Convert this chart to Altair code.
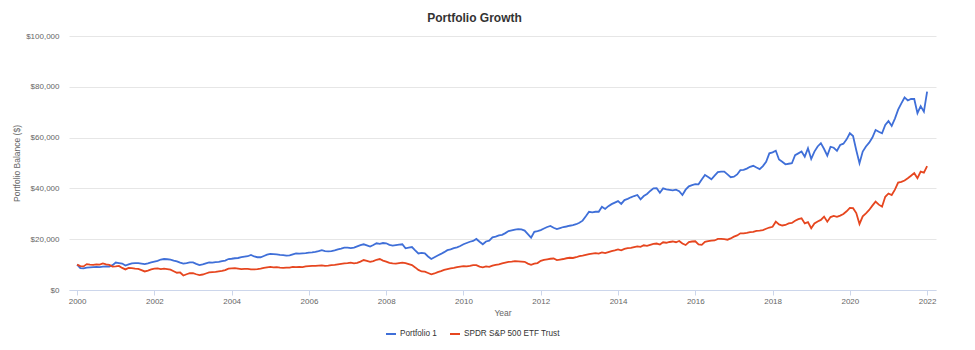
import altair as alt
import pandas as pd

series_names = ["Portfolio 1", "SPDR S&P 500 ETF Trust"]
series_colors = ["#3f6fd8", "#e6461f"]
x_ticks = list(range(2000, 2023, 2))
y_ticks = [0, 20000, 40000, 60000, 80000, 100000]

# Monthly balances (thousands of $), one row per year, positions year + k/12
p1_2000 = [10.0, 8.6, 8.5, 8.8, 8.9, 9.0, 9.1, 9.0, 9.2, 9.3, 9.2, 9.8]
p1_2001 = [10.8, 10.6, 10.4, 9.6, 10.1, 10.5, 10.6, 10.6, 10.4, 10.2, 10.5, 10.9]
p1_2002 = [11.2, 11.5, 12.0, 12.2, 12.1, 12.0, 11.6, 11.3, 10.8, 10.4, 10.6, 10.9]
p1_2003 = [10.9, 10.3, 9.8, 10.1, 10.5, 10.9, 10.8, 11.0, 11.1, 11.4, 11.6, 12.2]
p1_2004 = [12.3, 12.5, 12.6, 12.9, 13.1, 13.3, 13.8, 13.2, 12.9, 12.9, 13.4, 13.9]
p1_2005 = [14.2, 14.1, 14.0, 13.8, 13.7, 13.5, 13.6, 14.0, 14.4, 14.3, 14.4, 14.5]
p1_2006 = [14.7, 14.8, 15.0, 15.3, 15.7, 15.3, 15.2, 15.3, 15.6, 16.0, 16.3, 16.7]
p1_2007 = [16.7, 16.5, 16.7, 17.2, 17.7, 18.0, 17.6, 17.1, 17.7, 18.4, 18.2, 18.5]
p1_2008 = [18.4, 17.8, 17.5, 17.7, 17.9, 18.0, 16.4, 16.7, 16.9, 15.6, 14.4, 14.6]
p1_2009 = [14.4, 13.2, 12.2, 12.9, 13.6, 14.2, 14.9, 15.7, 16.0, 16.5, 16.8, 17.3]
p1_2010 = [18.0, 18.5, 19.0, 19.3, 20.1, 19.0, 18.0, 19.1, 19.4, 20.7, 21.0, 21.5]
p1_2011 = [21.7, 22.4, 23.2, 23.5, 23.8, 24.0, 23.9, 23.4, 22.0, 20.6, 22.9, 23.2]
p1_2012 = [23.6, 24.2, 24.8, 25.2, 24.5, 24.0, 24.4, 24.8, 25.0, 25.3, 25.5, 25.9]
p1_2013 = [26.5, 27.3, 29.0, 30.8, 30.6, 30.8, 30.8, 32.8, 31.9, 33.0, 33.8, 34.4]
p1_2014 = [35.0, 33.9, 35.4, 35.9, 36.5, 37.0, 37.4, 35.7, 37.0, 37.8, 39.0, 40.0]
p1_2015 = [40.1, 38.3, 40.0, 39.6, 39.4, 39.2, 39.5, 38.9, 37.4, 39.5, 40.8, 41.3]
p1_2016 = [41.7, 41.6, 43.5, 45.3, 44.5, 43.6, 45.0, 46.4, 46.6, 46.6, 45.5, 44.4]
p1_2017 = [44.6, 45.5, 47.2, 47.3, 47.8, 48.5, 48.9, 48.2, 47.6, 48.8, 50.5, 53.8]
p1_2018 = [54.2, 54.8, 51.4, 50.5, 49.5, 49.7, 49.9, 53.1, 53.8, 54.5, 52.5, 55.8]
p1_2019 = [51.6, 54.5, 56.5, 57.8, 55.5, 52.9, 56.4, 56.0, 54.8, 57.1, 57.6, 59.3]
p1_2020 = [61.7, 60.6, 55.0, 49.9, 54.5, 56.5, 58.0, 60.0, 63.0, 62.3, 61.7, 65.0]
p1_2021 = [66.5, 64.6, 67.5, 71.0, 73.5, 75.8, 74.6, 75.2, 75.2, 69.6, 72.4, 70.2]
p1_end = 78.1

spy_2000 = [10.0, 9.4, 9.3, 10.2, 10.0, 9.9, 10.1, 10.0, 10.5, 10.1, 9.9, 9.2]
spy_2001 = [9.3, 9.5, 8.7, 8.1, 8.7, 8.6, 8.4, 8.3, 7.8, 7.3, 7.6, 8.1]
spy_2002 = [8.4, 8.5, 8.2, 8.4, 8.2, 8.0, 7.4, 6.8, 6.9, 5.7, 6.2, 6.6]
spy_2003 = [6.6, 6.2, 5.9, 6.1, 6.5, 6.9, 7.0, 7.1, 7.3, 7.5, 7.8, 8.4]
spy_2004 = [8.5, 8.6, 8.4, 8.2, 8.3, 8.3, 8.1, 8.1, 8.2, 8.4, 8.7, 8.9]
spy_2005 = [9.1, 8.9, 9.0, 8.8, 8.7, 8.8, 8.8, 9.1, 9.0, 9.1, 9.0, 9.3]
spy_2006 = [9.4, 9.5, 9.5, 9.6, 9.7, 9.5, 9.6, 9.8, 9.9, 10.1, 10.3, 10.5]
spy_2007 = [10.6, 10.8, 10.5, 10.7, 11.2, 11.8, 11.5, 11.1, 11.4, 11.9, 12.2, 11.6]
spy_2008 = [11.2, 10.7, 10.5, 10.4, 10.6, 10.8, 10.6, 10.2, 9.8, 8.9, 7.9, 7.3]
spy_2009 = [7.2, 6.7, 6.2, 6.5, 7.0, 7.4, 7.9, 8.2, 8.5, 8.7, 9.0, 9.2]
spy_2010 = [9.4, 9.3, 9.5, 9.8, 9.8, 9.2, 8.9, 9.3, 9.1, 9.6, 9.9, 10.1]
spy_2011 = [10.5, 10.8, 11.1, 11.2, 11.4, 11.3, 11.2, 11.1, 10.4, 9.9, 10.4, 10.6]
spy_2012 = [11.5, 11.9, 12.1, 12.3, 12.4, 11.8, 12.0, 12.2, 12.5, 12.7, 12.6, 12.9]
spy_2013 = [13.3, 13.5, 13.8, 14.1, 14.3, 14.5, 14.3, 14.8, 14.5, 14.9, 15.3, 15.6]
spy_2014 = [16.0, 15.6, 16.2, 16.5, 16.6, 16.9, 17.2, 17.0, 17.6, 17.4, 17.8, 18.2]
spy_2015 = [18.3, 17.9, 18.8, 18.6, 18.9, 19.1, 18.8, 19.3, 18.3, 17.7, 18.9, 19.1]
spy_2016 = [19.2, 18.0, 17.8, 19.0, 19.2, 19.4, 19.5, 20.1, 20.1, 20.0, 19.8, 20.3]
spy_2017 = [21.0, 21.5, 22.3, 22.3, 22.5, 22.8, 22.9, 23.3, 23.4, 23.6, 24.1, 24.6]
spy_2018 = [24.9, 26.9, 25.8, 25.4, 25.6, 26.2, 26.4, 27.3, 27.9, 28.2, 26.2, 26.7]
spy_2019 = [24.3, 26.2, 27.0, 27.6, 28.9, 26.9, 28.7, 29.2, 28.8, 29.3, 29.9, 31.0]
spy_2020 = [32.3, 32.2, 30.3, 26.0, 29.0, 30.2, 31.5, 33.2, 34.8, 33.6, 32.8, 36.7]
spy_2021 = [38.0, 37.4, 39.5, 42.3, 42.6, 43.1, 44.0, 45.0, 46.0, 44.0, 46.6, 46.2]
spy_end = 48.8

p1_rows = [p1_2000, p1_2001, p1_2002, p1_2003, p1_2004, p1_2005, p1_2006, p1_2007,
           p1_2008, p1_2009, p1_2010, p1_2011, p1_2012, p1_2013, p1_2014, p1_2015,
           p1_2016, p1_2017, p1_2018, p1_2019, p1_2020, p1_2021]
spy_rows = [spy_2000, spy_2001, spy_2002, spy_2003, spy_2004, spy_2005, spy_2006, spy_2007,
            spy_2008, spy_2009, spy_2010, spy_2011, spy_2012, spy_2013, spy_2014, spy_2015,
            spy_2016, spy_2017, spy_2018, spy_2019, spy_2020, spy_2021]

p1_vals = [v for r in p1_rows for v in r] + [p1_end]
spy_vals = [v for r in spy_rows for v in r] + [spy_end]

records = []
for i, v in enumerate(p1_vals):
    records.append({"t": 2000 + i / 12, "series": series_names[0], "value": v * 1000, "o": 0})
for i, v in enumerate(spy_vals):
    records.append({"t": 2000 + i / 12, "series": series_names[1], "value": v * 1000, "o": 1})
df = pd.DataFrame(records)

chart = alt.Chart(df).mark_line(strokeWidth=1.8).encode(
    x=alt.X(
        "t:Q",
        scale=alt.Scale(domain=[1999.79, 2022.23], nice=False, zero=False),
        axis=alt.Axis(
            values=x_ticks, format="d", title="Year", grid=False,
            domainColor="#ccd6eb", tickColor="#ccd6eb", tickSize=5,
            labelFontSize=8, labelColor="#666666", labelPadding=2,
            titleFontSize=8.5, titleColor="#666666", titleFontWeight="normal",
            titleY=22, titleBaseline="middle",
        ),
    ),
    y=alt.Y(
        "value:Q",
        scale=alt.Scale(domain=[0, 100000], nice=False),
        axis=alt.Axis(
            values=y_ticks, format="$,.0f", title="Portfolio Balance ($)",
            domain=False, ticks=False, gridColor="#e6e6e6",
            labelFontSize=8, labelColor="#666666", labelPadding=10,
            titleFontSize=8.5, titleColor="#666666", titleFontWeight="normal",
            titleX=-53, titleY=127, titleAngle=270, titleBaseline="middle", titleAlign="center",
        ),
    ),
    color=alt.Color(
        "series:N",
        scale=alt.Scale(domain=series_names, range=series_colors),
        legend=alt.Legend(
            title=None, orient="none", legendX=316, legendY=292, direction="horizontal",
            symbolType="stroke", symbolStrokeWidth=2, symbolSize=100,
            labelFontSize=8.2, labelColor="#333333", labelOffset=3, columnPadding=9,
        ),
    ),
    order=alt.Order("o:Q"),
).properties(
    width=867,
    height=254,
    title=alt.TitleParams(
        "Portfolio Growth", fontSize=12, fontWeight="bold", color="#333333",
        anchor="middle", dx=-28, offset=2, baseline="middle",
    ),
    padding={"left": 69, "top": 36, "right": 39, "bottom": 60},
    autosize=alt.AutoSizeParams(type="none"),
    background="white",
).configure(font="Liberation Sans").configure_view(stroke=None)

chart.save("out.html", embed_options={"renderer": "svg", "actions": False})
